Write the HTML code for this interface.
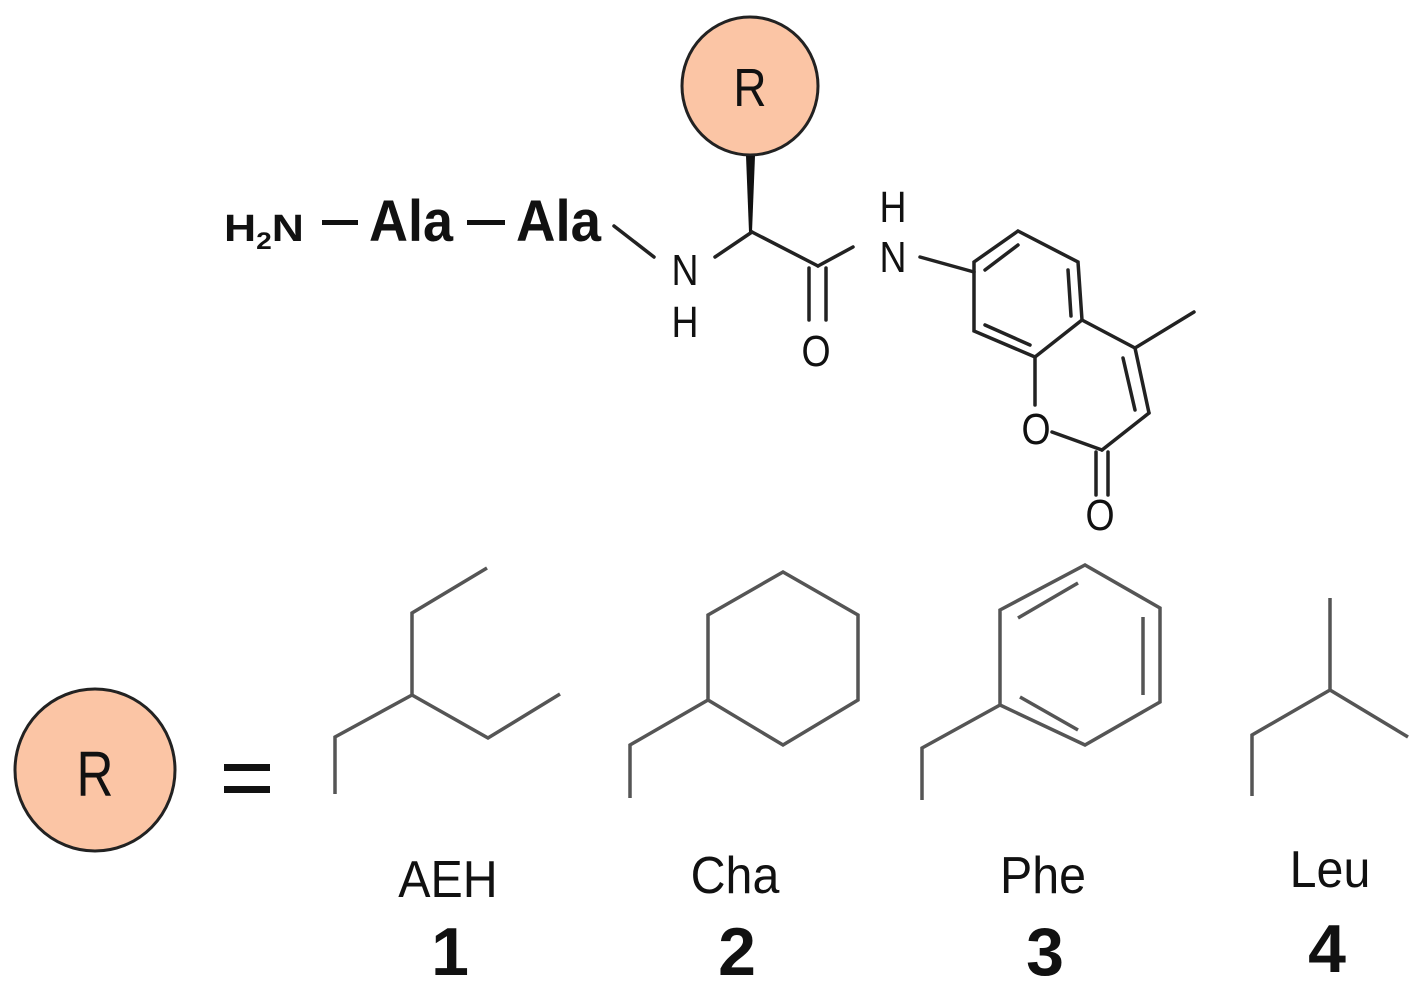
<!DOCTYPE html>
<html><head><meta charset="utf-8"><style>
html,body{margin:0;padding:0;background:#fff;}
svg{display:block;}
</style></head><body>
<svg width="1426" height="998" viewBox="0 0 1426 998" xmlns="http://www.w3.org/2000/svg">
<g font-family="Liberation Sans, sans-serif">
<ellipse cx="750" cy="86" rx="68" ry="69" fill="#fbc5a5" stroke="#222" stroke-width="3"/>
<text x="750" y="106" font-size="54" text-anchor="middle" fill="#111" transform="translate(750,0) scale(0.85,1) translate(-750,0)">R</text>
<polygon points="746,156 755,156 752,232 749,232" fill="#111"/>
<text x="224" y="241" font-size="38" font-weight="bold" fill="#111" textLength="80" lengthAdjust="spacingAndGlyphs">H<tspan font-size="24" dy="8">2</tspan><tspan dy="-8">N</tspan></text>
<rect x="322" y="220" width="36" height="5" fill="#111"/>
<rect x="467" y="220" width="38" height="5" fill="#111"/>
<text x="369" y="241" font-size="58" font-weight="bold" fill="#111" textLength="84" lengthAdjust="spacingAndGlyphs">Ala</text>
<text x="516" y="241" font-size="58" font-weight="bold" fill="#111" textLength="85" lengthAdjust="spacingAndGlyphs">Ala</text>
<g stroke="#222" stroke-width="3.5" fill="none" stroke-linecap="round">
<line x1="614" y1="226" x2="654" y2="257"/>
<line x1="715" y1="257" x2="752" y2="232"/>
<line x1="752" y1="232" x2="818" y2="266"/>
<line x1="818" y1="266" x2="853" y2="247"/>
<line x1="809" y1="268" x2="809" y2="320"/>
<line x1="826" y1="268" x2="826" y2="320"/>
<line x1="920" y1="257" x2="974" y2="272"/>
<polygon points="1018,231 1078,262 1082,320 1035,357 974,331 974,262"/>
<line x1="1068" y1="270" x2="1071" y2="316"/>
<line x1="985" y1="270" x2="1018" y2="245"/>
<line x1="985" y1="325" x2="1030" y2="345"/>
<line x1="1082" y1="320" x2="1135" y2="348"/>
<line x1="1135" y1="348" x2="1149" y2="413"/>
<line x1="1123" y1="358" x2="1135" y2="410"/>
<line x1="1149" y1="413" x2="1102" y2="450"/>
<line x1="1102" y1="450" x2="1052" y2="432"/>
<line x1="1035" y1="357" x2="1035" y2="405"/>
<line x1="1135" y1="348" x2="1194" y2="312"/>
<line x1="1096" y1="452" x2="1096" y2="495"/>
<line x1="1108" y1="452" x2="1108" y2="495"/>
</g>
<g font-size="44" fill="#111" text-anchor="middle">
<text x="685" y="285" transform="translate(685,0) scale(0.85,1) translate(-685,0)">N</text>
<text x="685" y="337" transform="translate(685,0) scale(0.85,1) translate(-685,0)">H</text>
<text x="893" y="272" transform="translate(893,0) scale(0.85,1) translate(-893,0)">N</text>
<text x="893" y="222" transform="translate(893,0) scale(0.85,1) translate(-893,0)">H</text>
<text x="816" y="366" transform="translate(816,0) scale(0.85,1) translate(-816,0)">O</text>
<text x="1036" y="444" transform="translate(1036,0) scale(0.85,1) translate(-1036,0)">O</text>
<text x="1100" y="530" transform="translate(1100,0) scale(0.85,1) translate(-1100,0)">O</text>
</g>
<ellipse cx="95" cy="770" rx="80" ry="81" fill="#fbc5a5" stroke="#222" stroke-width="3"/>
<text x="95" y="796" font-size="64" text-anchor="middle" fill="#111" transform="translate(95,0) scale(0.8,1) translate(-95,0)">R</text>
<rect x="224" y="764" width="46" height="7" fill="#111"/>
<rect x="224" y="786" width="46" height="7" fill="#111"/>
<g stroke="#555" stroke-width="3.5" fill="none">
<polyline points="335,794 335,737 412,695 412,613 487,568"/>
<polyline points="412,695 488,738 560,694"/>
<polyline points="630,798 630,745 708,700"/>
<polygon points="708,700 708,615 783,572 858,615 858,700 783,745"/>
<polyline points="922,800 922,748 1000,705"/>
<polygon points="1000,705 1000,610 1085,565 1160,608 1160,702 1085,745"/>
<line x1="1018" y1="618" x2="1078" y2="583"/>
<line x1="1143" y1="617" x2="1143" y2="695"/>
<line x1="1020" y1="697" x2="1078" y2="730"/>
<polyline points="1252,796 1252,735 1330,690 1330,598"/>
<line x1="1330" y1="690" x2="1408" y2="737"/>
</g>
<g font-size="52" fill="#111" text-anchor="middle">
<text x="448" y="897" transform="translate(448,0) scale(0.93,1) translate(-448,0)">AEH</text>
<text x="735" y="893" transform="translate(735,0) scale(0.93,1) translate(-735,0)">Cha</text>
<text x="1043" y="893" transform="translate(1043,0) scale(0.93,1) translate(-1043,0)">Phe</text>
<text x="1330" y="887" transform="translate(1330,0) scale(0.93,1) translate(-1330,0)">Leu</text>
</g>
<g font-size="68" font-weight="bold" fill="#111" text-anchor="middle">
<text x="450" y="975">1</text>
<text x="737" y="975">2</text>
<text x="1045" y="975">3</text>
<text x="1327" y="972">4</text>
</g>
</g>
</svg>
</body></html>
